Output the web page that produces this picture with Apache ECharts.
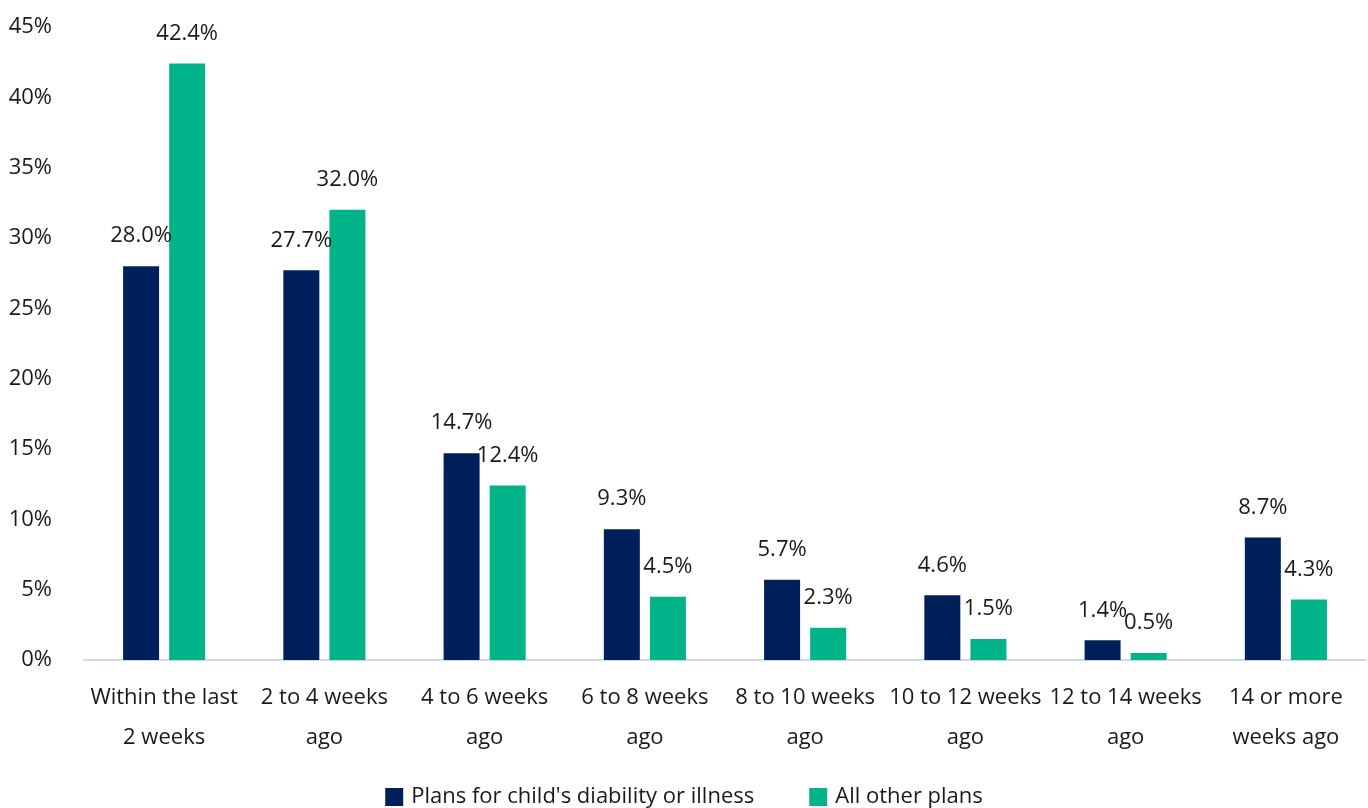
<!DOCTYPE html>
<html>
<head>
<meta charset="utf-8">
<script src="https://cdn.jsdelivr.net/npm/echarts@6/dist/echarts.min.js"></script>
<style>
  html, body { margin: 0; padding: 0; background: #ffffff; }
  #chart { width: 1368px; height: 808px; }
</style>
</head>
<body>
<div id="chart"></div>
<script>
// Time since plan was made, by plan type (share of respondents)
const categories = [
  'Within the last\n2 weeks', '2 to 4 weeks\nago', '4 to 6 weeks\nago', '6 to 8 weeks\nago',
  '8 to 10 weeks\nago', '10 to 12 weeks\nago', '12 to 14 weeks\nago', '14 or more\nweeks ago'
];
const childPlans = [28.0, 27.7, 14.7, 9.3, 5.7, 4.6, 1.4, 8.7];
const otherPlans = [42.4, 32.0, 12.4, 4.5, 2.3, 1.5, 0.5, 4.3];
const seriesNames = ["Plans for child's diability or illness", 'All other plans'];

const FONT = '"Open Sans", "Noto Sans", sans-serif';
const TEXT = '#1a1a1a';
const FS = 22;

const chart = echarts.init(document.getElementById('chart'));

const valueLabel = {
  show: true,
  position: 'top',
  distance: 19,
  fontFamily: FONT,
  fontSize: FS,
  color: TEXT,
  formatter: p => p.value.toFixed(1) + '%'
};

chart.setOption({
  backgroundColor: '#ffffff',
  animation: false,
  textStyle: { fontFamily: FONT },
  grid: { left: 84, right: 2, top: 27, bottom: 148, containLabel: false },
  legend: {
    bottom: -5,
    left: 'center',
    itemWidth: 18,
    itemHeight: 18,
    itemGap: 55,
    icon: 'rect',
    textStyle: { fontFamily: FONT, fontSize: FS, color: TEXT, padding: [0, 0, 0, 3] },
    data: seriesNames
  },
  xAxis: {
    type: 'category',
    data: categories,
    axisLine: { lineStyle: { color: '#D0D8EA', width: 2 } },
    axisTick: { show: false },
    axisLabel: {
      interval: 0,
      margin: 18,
      fontFamily: FONT,
      fontSize: FS,
      lineHeight: 40,
      color: TEXT
    }
  },
  yAxis: {
    type: 'value',
    min: 0,
    max: 45,
    interval: 5,
    axisLine: { show: false },
    axisTick: { show: false },
    splitLine: { show: false },
    axisLabel: {
      margin: 32,
      fontFamily: FONT,
      fontSize: FS,
      color: TEXT,
      padding: [0, 0, 8, 0],
      formatter: v => v + '%'
    }
  },
  series: [
    {
      name: seriesNames[0],
      type: 'bar',
      data: childPlans,
      barWidth: 36,
      barGap: '28%',
      itemStyle: { color: '#00205B' },
      label: valueLabel
    },
    {
      name: seriesNames[1],
      type: 'bar',
      data: otherPlans,
      barWidth: 36,
      itemStyle: { color: '#00B388' },
      label: valueLabel
    }
  ]
});
</script>
</body>
</html>
